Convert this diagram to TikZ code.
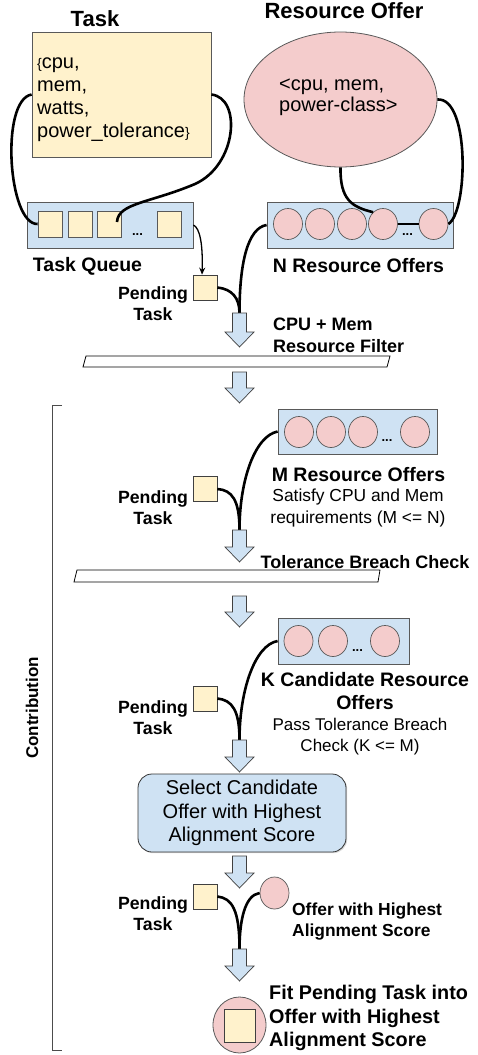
\documentclass[tikz,border=0pt]{standalone}
\usepackage{fontspec}
\setmainfont{Liberation Sans}
\usetikzlibrary{shapes.geometric,arrows.meta,shadows}

\definecolor{taskfill}{HTML}{FFF2CC}
\definecolor{offerfill}{HTML}{F4CCCC}
\definecolor{panelfill}{HTML}{CFE2F3}
\definecolor{edgegray}{HTML}{595959}

% block arrow pointing down: centre x, top y, tip y
\newcommand\flowdown[3]{%
  \draw[flowarrow] ({#1-7},{#2}) -- ({#1+7},{#2}) -- ({#1+7},{#3-15})
    -- ({#1+14.5},{#3-15}) -- ({#1},{#3}) -- ({#1-14.5},{#3-15})
    -- ({#1-7},{#3-15}) -- cycle;}

\tikzset{
  panel/.style={draw=edgegray, fill=panelfill, line width=0.8pt, inner sep=0pt,
    drop shadow={shadow xshift=1.2pt, shadow yshift=-1.2pt, fill=black!30}},
  cell/.style={draw=edgegray, fill=taskfill, line width=0.7pt, inner sep=0pt,
    minimum width=24pt, minimum height=26pt},
  pendcell/.style={cell, draw=black!75, minimum height=25pt},
  offercell/.style={ellipse, draw=edgegray, fill=offerfill, line width=0.7pt,
    inner sep=0pt, minimum width=29pt, minimum height=31pt},
  link/.style={draw=black, line width=2.6pt},
  flowarrow/.style={draw=black!75, fill=panelfill, line width=0.7pt},
  filterbar/.style={draw=black, fill=white, line width=0.8pt},
  dots/.style={font=\bfseries\fontsize{13}{13}\selectfont, inner sep=0pt, anchor=base},
  title/.style={font=\bfseries\fontsize{22}{26}\selectfont, inner sep=0pt},
  biglabel/.style={font=\bfseries\fontsize{19.5}{23.5}\selectfont, inner sep=0pt},
  midlabel/.style={font=\bfseries\fontsize{18}{22}\selectfont, inner sep=0pt},
  pendlabel/.style={font=\bfseries\fontsize{17.7}{21}\selectfont, inner sep=0pt, align=center},
  note/.style={font=\fontsize{17.4}{22}\selectfont, inner sep=0pt, align=center},
}

\begin{document}
\begin{tikzpicture}[x=1pt, y=-1pt]
\useasboundingbox (0,0) rectangle (477,1055);

% ---------- task definition ----------
\node[title] (tasktitle) at (95,19) {Task};
\node[draw=edgegray, fill=taskfill, line width=0.8pt, inner sep=0pt,
      minimum width=179pt, minimum height=125pt] (task) at (121.5,94.5) {};
\node[anchor=north west, align=left, inner sep=0pt,
      font=\fontsize{20}{22.7}\selectfont] (tasktext) at (37,58)
  {{\fontsize{14}{14}\selectfont\{}cpu,\\mem,\\watts,\\power\_tolerance{\fontsize{14}{14}\selectfont\}}};

% ---------- resource offer definition ----------
\node[title] (offertitle) at (344,11) {Resource Offer};
\node[ellipse, draw=edgegray, fill=offerfill, line width=0.8pt, inner sep=0pt,
      minimum width=193pt, minimum height=135pt] (offer) at (340.5,99.5) {};
\node[anchor=west, align=left, inner sep=0pt, font=\fontsize{20}{21}\selectfont]
  (offertext) at (279,97) {<cpu, mem,\\power-class>};

% ---------- task queue ----------
\node[panel, minimum width=166pt, minimum height=46pt] (queue) at (110,225) {};
\node[cell] (sq1) at (50,224) {};
\node[cell] (sq2) at (80,224) {};
\node[cell] (sq3) at (109.5,224) {};
\node[cell] (sq4) at (169.5,224) {};
\node[dots] (qdots) at (137.5,235) {...};
\node[biglabel] (queuelabel) at (87.5,266) {Task Queue};

% ---------- N resource offers ----------
\node[panel, minimum width=186pt, minimum height=46pt] (nbox) at (360,225) {};
\node[offercell] (o1) at (288,224) {};
\node[offercell] (o2) at (320,224) {};
\node[offercell] (o3) at (352,224) {};
\node[offercell] (o4) at (383,224) {};
\node[offercell] (o5) at (433.5,224) {};
\node[dots] (ndots) at (407.5,235) {...};
\node[biglabel] (nlabel) at (358.5,266) {N Resource Offers};

% links from the definitions to their queues
\draw[link] (task.west) .. controls (0,100) and (8,225) .. (sq1.west);
\draw[link] (task.east) .. controls (242,98) and (237,165) .. (195,184)
  .. controls (150,203) and (118,203) .. ([xshift=7.5pt,yshift=2pt]sq3.center);
\draw[link] (offer.south) .. controls (340,200) and (352,207) .. (o4.130);
\draw[link] (o4.east) -- (o5.west);
\draw[link] (o5.east) .. controls (468,212) and (470,97) .. (offer.east);

% ---------- stage 1: CPU + Mem filter ----------
\node[pendcell] (pend1) at (205,287.5) {};
\node[pendlabel] (pend1label) at (153,303.5) {Pending\\Task};
\coordinate (a1) at (239.5,313);
\draw[line width=1.3pt, -{Stealth[length=7pt,width=6pt]}]
  (queue.east) .. controls (200,228) and (203,245) .. ([xshift=-3pt]pend1.north);
\draw[link] (pend1.east) .. controls (232,289) and (239.5,298) .. (a1);
\draw[link] (nbox.west) .. controls (248,228) and (239.5,262) .. (a1);
\flowdown{239.5}{313}{347}
\node[midlabel, anchor=west, align=left] (filter1) at (273,335) {CPU + Mem\\Resource Filter};
\draw[filterbar] (86,356) -- (390,356) -- (387,367) -- (83,367) -- cycle;
\flowdown{239.5}{372}{403}

% ---------- contribution bracket ----------
\draw[draw=black!70, line width=0.8pt] (62,405) -- (52,405) -- (52,1050) -- (62,1050);
\node[rotate=90, font=\bfseries\fontsize{17}{17}\selectfont, inner sep=0pt]
  (contrib) at (32,708) {Contribution};

% ---------- stage 2: tolerance breach check ----------
\node[panel, minimum width=159pt, minimum height=45pt] (mbox) at (357.5,431.5) {};
\node[offercell] (m1) at (299,432) {};
\node[offercell] (m2) at (331,432) {};
\node[offercell] (m3) at (363,432) {};
\node[offercell] (m4) at (415,432) {};
\node[dots] (mdots) at (387,441) {...};
\node[biglabel] (mlabel) at (358.5,475) {M Resource Offers};
\node[note] (mnote) at (358,508) {Satisfy CPU and Mem\\requirements (M <= N)};

\node[pendcell] (pend2) at (205,489) {};
\node[pendlabel] (pend2label) at (153,508) {Pending\\Task};
\coordinate (a3) at (239.5,530);
\draw[link] (mbox.west) .. controls (255,436) and (239.5,480) .. (a3);
\draw[link] (pend2.east) .. controls (232,490) and (239.5,500) .. (a3);
\flowdown{239.5}{530}{562}
\node[midlabel] (filter2) at (365,562) {Tolerance Breach Check};
\draw[filterbar] (77,570) -- (380,570) -- (378,582) -- (74,582) -- cycle;
\flowdown{239.5}{596}{627}

% ---------- stage 3: candidate selection ----------
\node[panel, minimum width=131pt, minimum height=46pt] (kbox) at (343.5,641) {};
\node[offercell] (k1) at (298.5,641) {};
\node[offercell] (k2) at (333,641) {};
\node[offercell] (k3) at (385,641) {};
\node[dots] (kdots) at (357.5,651) {...};
\node[biglabel, align=center] (klabel) at (365,691) {K Candidate Resource\\Offers};
\node[note, font=\fontsize{17}{21.5}\selectfont] (knote) at (360,736.5) {Pass Tolerance Breach\\Check (K <= M)};

\node[pendcell] (pend3) at (205,698.5) {};
\node[pendlabel] (pend3label) at (153,717.5) {Pending\\Task};
\coordinate (a5) at (239.5,740);
\draw[link] (kbox.west) .. controls (255,645) and (239.5,690) .. (a5);
\draw[link] (pend3.east) .. controls (232,700) and (239.5,710) .. (a5);
\flowdown{239.5}{740}{772}

\node[draw=black!80, fill=panelfill, line width=0.8pt, rounded corners=14pt,
      minimum width=208pt, minimum height=78pt, inner sep=0pt, align=center,
      font=\fontsize{20}{23.5}\selectfont,
      drop shadow={shadow xshift=1.2pt, shadow yshift=-1.2pt, fill=black!30}]
  (select) at (242,813) {Select Candidate\\Offer with Highest\\Alignment Score};
\flowdown{239.5}{856}{888}

% ---------- stage 4: placement ----------
\node[pendcell] (pend4) at (205,896.5) {};
\node[pendlabel] (pend4label) at (153,914) {Pending\\Task};
\node[offercell, minimum width=29pt, minimum height=32pt] (best) at (274.5,893) {};
\node[anchor=west, align=left, inner sep=0pt, font=\bfseries\fontsize{17.4}{21}\selectfont]
  (bestlabel) at (292,921.5) {Offer with Highest\\Alignment Score};
\coordinate (a7) at (239.5,949);
\draw[link] (pend4.east) .. controls (232,898) and (239.5,910) .. (a7);
\draw[link] (best.west) .. controls (245,895) and (239.5,920) .. (a7);
\flowdown{239.5}{949}{981}

\node[ellipse, draw=edgegray, fill=offerfill, line width=0.8pt, inner sep=0pt,
      minimum width=53pt, minimum height=56pt] (fit) at (239.5,1025) {};
\node[cell, draw=black!75, minimum width=31pt, minimum height=33pt] (fittask) at (239.5,1025.5) {};
\node[biglabel, anchor=west, align=left, font=\bfseries\fontsize{19.8}{23.5}\selectfont]
  (fitlabel) at (269,1018) {Fit Pending Task into\\Offer with Highest\\Alignment Score};
\end{tikzpicture}
\end{document}
